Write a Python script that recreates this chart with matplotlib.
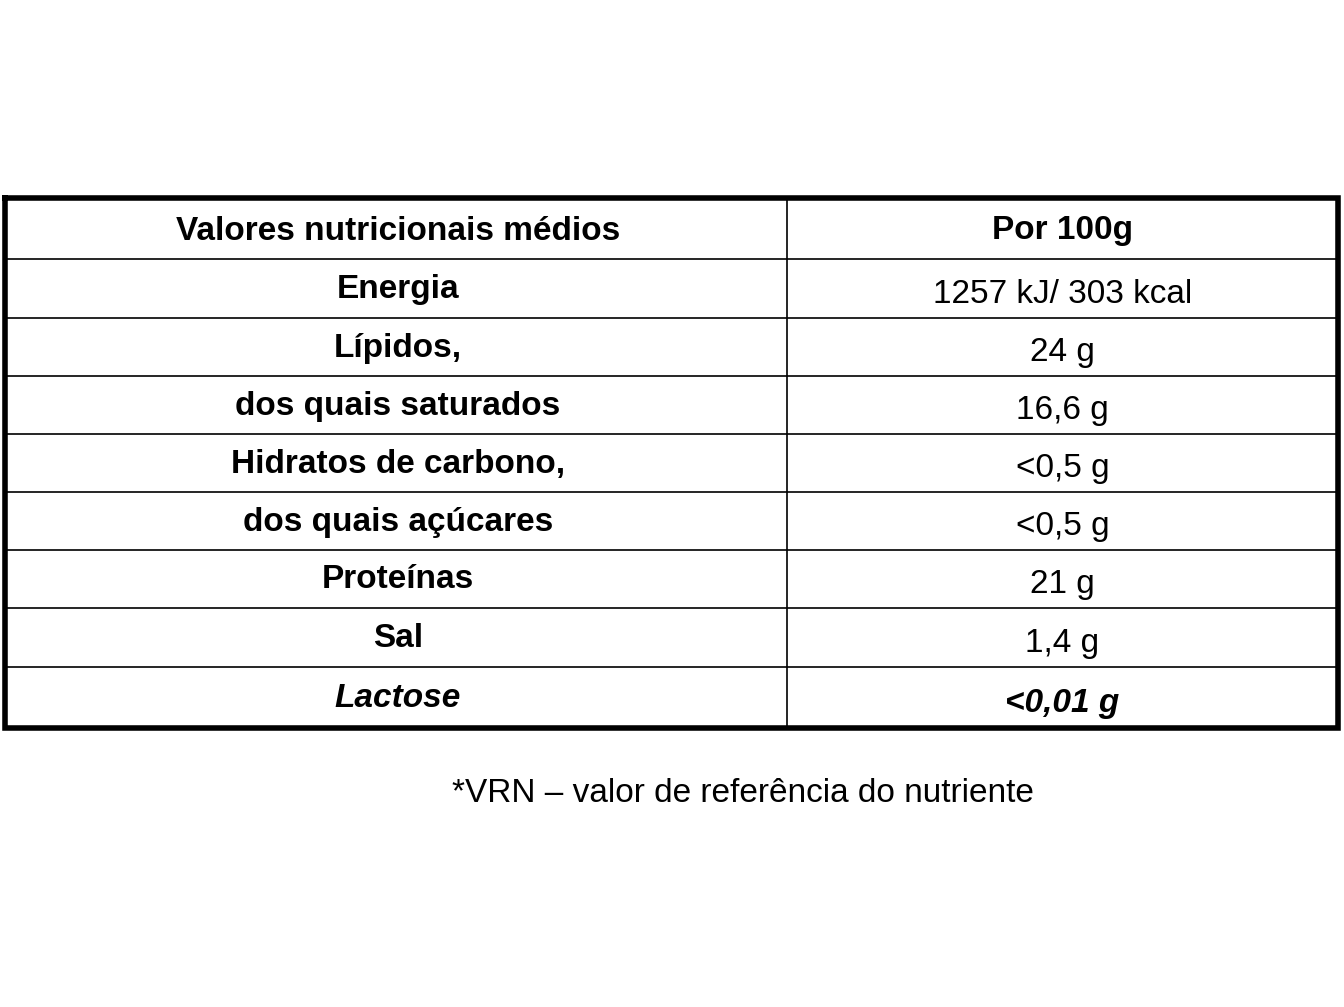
import matplotlib.pyplot as plt

plt.rcParams['font.family'] = ['Liberation Sans', 'DejaVu Sans']

header = ["Valores nutricionais médios", "Por 100g"]
nutrients = ["Energia", "Lípidos,", "dos quais saturados", "Hidratos de carbono,",
             "dos quais açúcares", "Proteínas", "Sal", "Lactose"]
values = ["1257 kJ/ 303 kcal", "24 g", "16,6 g", "<0,5 g", "<0,5 g", "21 g", "1,4 g", "<0,01 g"]
footnote = "*VRN – valor de referência do nutriente"

# layout in pixels
left, right, mid = 5, 1338, 787
row_edges = [198, 259, 318, 376, 434, 492, 550, 608, 667, 728]

fig = plt.figure(figsize=(13.44, 10.07), dpi=100)
ax = fig.add_axes([0, 0, 1, 1])
ax.set_xlim(0, 1344)
ax.set_ylim(1007, 0)
ax.axis('off')

# inner grid
for y in row_edges[1:-1]:
    ax.plot([left, right], [y, y], color='black', lw=1.2)
ax.plot([mid, mid], [row_edges[0], row_edges[-1]], color='black', lw=1.2)
# outer border
ax.plot([left, right, right, left, left],
        [row_edges[0], row_edges[0], row_edges[-1], row_edges[-1], row_edges[0]],
        color='black', lw=4, solid_joinstyle='miter')

cx_l = (left + mid) / 2
cx_r = (mid + right) / 2
fs = 24

ax.text(cx_l + 2, 231, header[0], ha='center', va='center', fontsize=fs, fontweight='bold')
ax.text(cx_r, 231, header[1], ha='center', va='center', fontsize=fs, fontweight='bold')

for i, (n, v) in enumerate(zip(nutrients, values)):
    top, bot = row_edges[i + 1], row_edges[i + 2]
    yc = (top + bot) / 2
    last = i == len(nutrients) - 1
    style = 'italic' if last else 'normal'
    ax.text(cx_l + 2, yc + 1, n, ha='center', va='center', fontsize=fs,
            fontweight='bold', fontstyle=style)
    ax.text(cx_r, yc + 6, v, ha='center', va='center', fontsize=fs,
            fontweight='bold' if last else 'normal', fontstyle=style)

ax.text(743, 793, footnote, ha='center', va='center', fontsize=fs)

fig.savefig('out.png', dpi=100, facecolor='white')
